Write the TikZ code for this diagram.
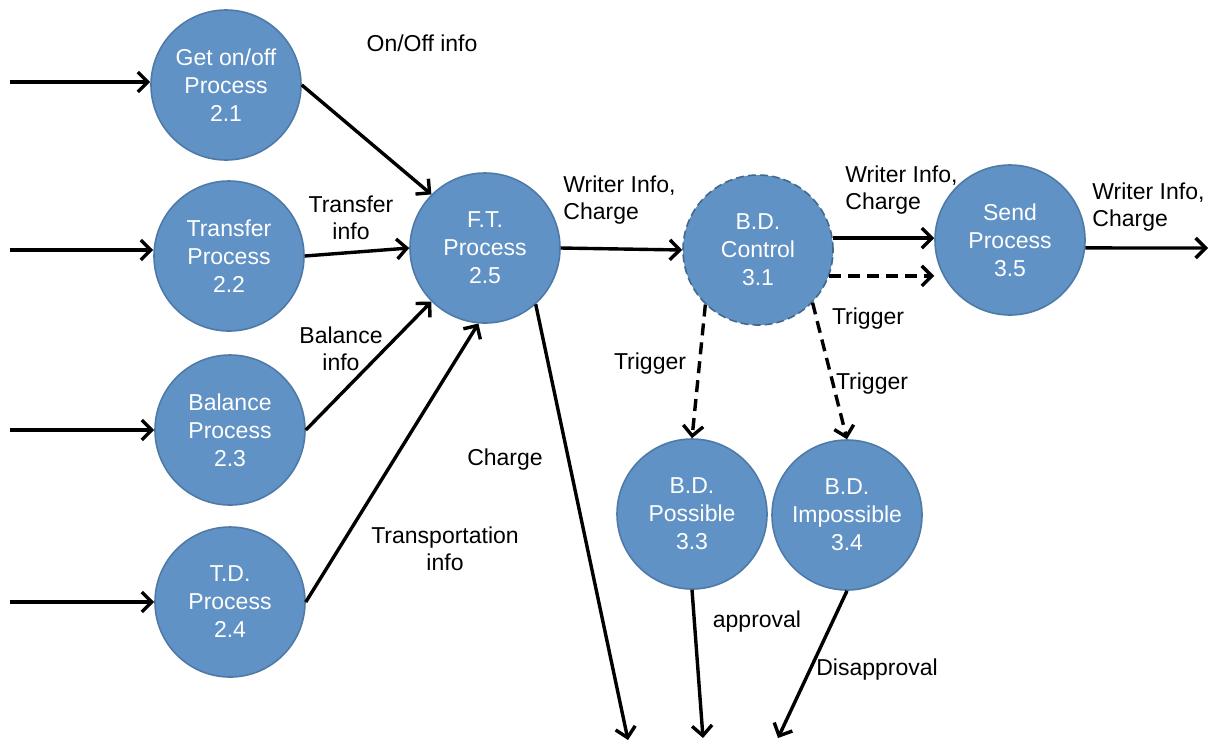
\documentclass[tikz,border=0pt]{standalone}
\usepackage{fontspec}
\setmainfont{Liberation Sans}
\usetikzlibrary{arrows.meta}
\definecolor{procfill}{RGB}{96,146,197}
\definecolor{procedge}{RGB}{78,122,168}
\tikzset{
  proc/.style={circle, fill=procfill, draw=procedge, line width=0.8pt, minimum size=75pt, inner sep=0pt,
    text=white, align=center, font=\fontsize{11.5}{14}\selectfont},
  lbl/.style={align=center, font=\fontsize{11.5}{13.3}\selectfont, text=black, inner sep=0pt},
  lbll/.style={align=left, font=\fontsize{11.5}{13.3}\selectfont, text=black, inner sep=0pt, anchor=west},
  flow/.style={line width=1.7pt, -{Straight Barb[length=5pt,width=10pt,line width=1.7pt]}},
  dflow/.style={flow, dash pattern=on 6pt off 3.5pt}
}
\begin{document}
\begin{tikzpicture}[x=0.5pt,y=-0.5pt]
\useasboundingbox (0,0) rectangle (1214,741);
% processes
\node[proc] (a21) at (226,85) {Get on/off\\Process\\2.1};
\node[proc] (a22) at (229,256) {Transfer\\Process\\2.2};
\node[proc] (a23) at (230,430) {Balance\\Process\\2.3};
\node[proc] (a24) at (230,602) {T.D.\\Process\\2.4};
\node[proc] (a25) at (485,248) {F.T.\\Process\\2.5};
\node[proc, dashed, dash pattern=on 4pt off 2pt, draw=procedge!85!black] (a31) at (758,250) {B.D.\\Control\\3.1};
\node[proc] (a35) at (1010,240) {Send\\Process\\3.5};
\node[proc] (a33) at (692,514) {B.D.\\Possible\\3.3};
\node[proc] (a34) at (847,515) {B.D.\\Impossible\\3.4};
% free ends
\coordinate (in1) at (10,82);
\coordinate (in2) at (10,250);
\coordinate (in3) at (10,430);
\coordinate (in4) at (10,602);
\coordinate (outc) at (628,740);
\coordinate (out35) at (1208,248);
\coordinate (outa) at (703,738);
\coordinate (outd) at (778,738);
% connectors
\draw[flow] (in1) -- (in1 -| a21.west);
\draw[flow] (in2) -- (in2 -| a22.west);
\draw[flow] (in3) -- (in3 -| a23.west);
\draw[flow] (in4) -- (in4 -| a24.west);
\draw[flow] (a21.east) -- (a25.135);
\draw[flow] (a22.east) -- (a25.west);
\draw[flow] (a23.east) -- (a25.225);
\draw[flow] (a24.east) -- (a25.265);
\draw[flow] (a25.-48) -- (outc);
\draw[flow] (a25.east) -- (a31.west);
\draw[flow] (a31.9) -- (a31.9 -| a35.west);
\draw[dflow] (a31.-20) -- (a31.-20 -| a35.west);
\draw[flow] (a35.-6) -- (out35);
\draw[dflow] (a31.226) -- (a33.north);
\draw[dflow] (a31.-44) -- (a34.north);
\draw[flow] (a33.south) -- (outa);
\draw[flow] (a34.south) -- (outd);
% labels
\node[lbl] (l1) at (422,43) {On/Off info};
\node[lbl] (l2) at (351,218) {Transfer\\info};
\node[lbl] (l3) at (341,349) {Balance\\info};
\node[lbl] (l4) at (445,549) {Transportation\\info};
\node[lbl] (l5) at (505,460) {Charge};
\node[lbll] (l6) at (563,200) {Writer Info,\\Charge};
\node[lbll] (l7) at (845,190) {Writer Info,\\Charge};
\node[lbll] (l8) at (1092,207) {Writer Info,\\Charge};
\node[lbl] (l9) at (650,364) {Trigger};
\node[lbl] (l10) at (868,319) {Trigger};
\node[lbl] (l11) at (872,384) {Trigger};
\node[lbl] (l12) at (757,622) {approval};
\node[lbl] (l13) at (877,670) {Disapproval};
\end{tikzpicture}
\end{document}
